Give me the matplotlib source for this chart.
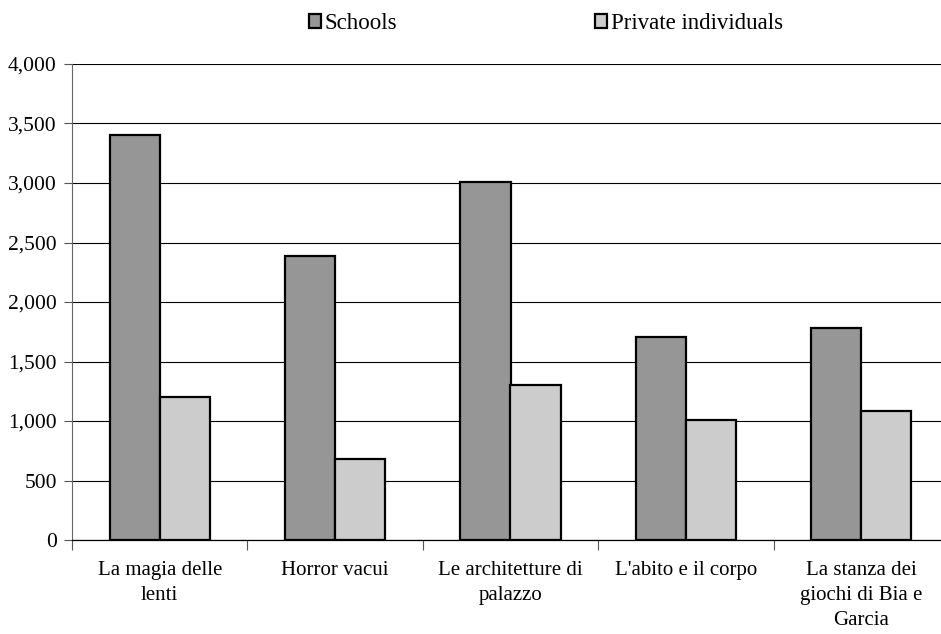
import numpy as np
import matplotlib
matplotlib.use("Agg")
import matplotlib.pyplot as plt
from matplotlib.ticker import FuncFormatter, FixedLocator

categories = [
    "La magia delle\nlenti",
    "Horror vacui",
    "Le architetture di\npalazzo",
    "L'abito e il corpo",
    "La stanza dei\ngiochi di Bia e\nGarcia",
]
schools = [3400, 2390, 3010, 1710, 1785]
private_individuals = [1200, 682, 1300, 1005, 1080]
y_ticks = [0, 500, 1000, 1500, 2000, 2500, 3000, 3500, 4000]

plt.rcParams["font.family"] = ["Liberation Serif", "DejaVu Serif"]

fig = plt.figure(figsize=(9.41, 6.34), dpi=100)
# axes runs a little past the right edge of the figure, as in the original
ax = fig.add_axes([72 / 941, 94 / 634, 877 / 941, 476 / 634])

x = np.arange(len(categories))
w = 0.286
ax.bar(x - w / 2, schools, width=w, color="#969696", edgecolor="black",
       linewidth=1.6, label="Schools", zorder=3)
ax.bar(x + w / 2, private_individuals, width=w, color="#cccccc", edgecolor="black",
       linewidth=1.6, label="Private individuals", zorder=3)

ax.set_xlim(-0.5, len(categories) - 0.5)
ax.set_ylim(0, 4000)
ax.set_yticks(y_ticks)
ax.yaxis.set_major_formatter(FuncFormatter(lambda v, p: f"{int(v):,}"))
ax.yaxis.grid(True, color="black", linewidth=0.8, zorder=0)

# category boundary ticks, labels at centres
ax.xaxis.set_major_locator(FixedLocator(np.arange(len(categories) + 1) - 0.5))
ax.xaxis.set_major_formatter(FuncFormatter(lambda v, p: ""))
ax.xaxis.set_minor_locator(FixedLocator(x))
ax.set_xticklabels(categories, minor=True)
ax.tick_params(axis="x", which="major", length=7, width=0.8, color="#555555", direction="out")
ax.tick_params(axis="x", which="minor", length=0, pad=15, labelsize=15)
ax.tick_params(axis="y", length=6, width=0.8, color="#555555", labelsize=15.5, pad=5)
for lbl in ax.get_xticklabels(minor=True):
    lbl.set_linespacing(1.42)

for s in ["top", "right"]:
    ax.spines[s].set_visible(False)
ax.spines["left"].set_color("#666666")
ax.spines["bottom"].set_color("black")
ax.spines["bottom"].set_linewidth(0.9)

fig.legend(loc="upper center", bbox_to_anchor=(0.58, 1.012), ncol=2, frameon=False,
           fontsize=16.5, handlelength=0.55, handleheight=0.55, handletextpad=0.15,
           columnspacing=8.6)

fig.savefig("out.png", dpi=100)
